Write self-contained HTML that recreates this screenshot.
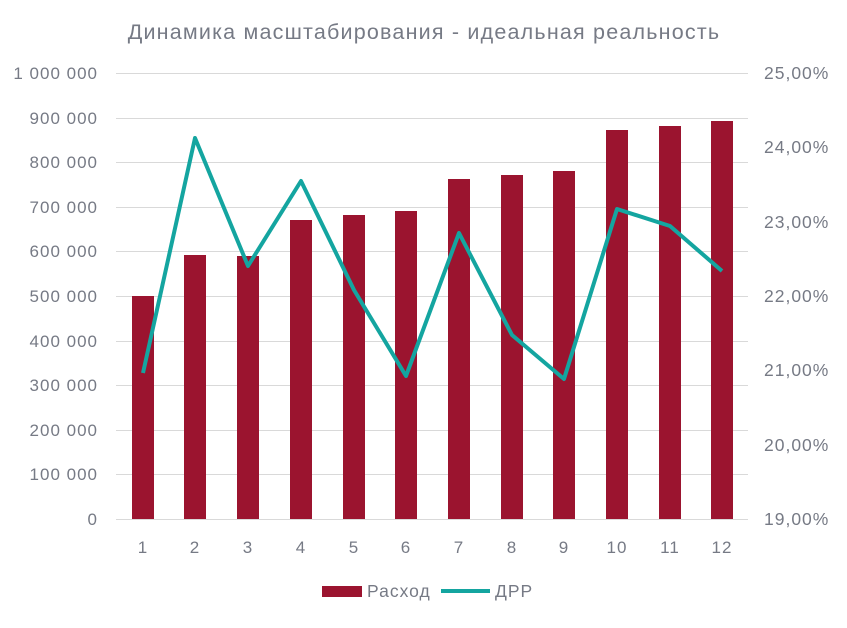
<!DOCTYPE html>
<html><head><meta charset="utf-8"><style>
body{margin:0;background:#fff}
text{font-family:"Liberation Sans",sans-serif;fill:#767a85;letter-spacing:1px}
</style></head><body>
<svg width="847" height="623" xmlns="http://www.w3.org/2000/svg">
<rect width="847" height="623" fill="#fff"/>
<text x="424" y="39" font-size="21.5" text-anchor="middle" style="letter-spacing:1.2px">Динамика масштабирования - идеальная реальность</text>
<g stroke="#d9d9d9" stroke-width="1">
<line x1="116" x2="748" y1="73.5" y2="73.5"/><line x1="116" x2="748" y1="118.5" y2="118.5"/>
<line x1="116" x2="748" y1="162.5" y2="162.5"/><line x1="116" x2="748" y1="207.5" y2="207.5"/>
<line x1="116" x2="748" y1="251.5" y2="251.5"/><line x1="116" x2="748" y1="296.5" y2="296.5"/>
<line x1="116" x2="748" y1="341.5" y2="341.5"/><line x1="116" x2="748" y1="385.5" y2="385.5"/>
<line x1="116" x2="748" y1="430.5" y2="430.5"/><line x1="116" x2="748" y1="474.5" y2="474.5"/>
<line x1="116" x2="748" y1="519.5" y2="519.5"/>
</g>
<g font-size="17" text-anchor="end">
<text x="98" y="79">1 000 000</text><text x="98" y="124">900 000</text><text x="98" y="168">800 000</text>
<text x="98" y="213">700 000</text><text x="98" y="257">600 000</text><text x="98" y="302">500 000</text>
<text x="98" y="347">400 000</text><text x="98" y="391">300 000</text><text x="98" y="436">200 000</text>
<text x="98" y="480">100 000</text><text x="98" y="525">0</text>
</g>
<g font-size="17.5" style="letter-spacing:1.5px">
<text x="764" y="79">25,00%</text><text x="764" y="153">24,00%</text><text x="764" y="228">23,00%</text>
<text x="764" y="302">22,00%</text><text x="764" y="376">21,00%</text><text x="764" y="451">20,00%</text>
<text x="764" y="525">19,00%</text>
</g>
<g fill="#9b142f">
<rect x="132" y="296" width="22" height="223"/>
<rect x="184" y="255" width="22" height="264"/>
<rect x="237" y="256" width="22" height="263"/>
<rect x="290" y="220" width="22" height="299"/>
<rect x="343" y="215" width="22" height="304"/>
<rect x="395" y="211" width="22" height="308"/>
<rect x="448" y="179" width="22" height="340"/>
<rect x="501" y="175" width="22" height="344"/>
<rect x="553" y="171" width="22" height="348"/>
<rect x="606" y="130" width="22" height="389"/>
<rect x="659" y="126" width="22" height="393"/>
<rect x="711" y="121" width="22" height="398"/>
</g>
<polyline fill="none" stroke="#14a5a0" stroke-width="4" stroke-linejoin="round" points="143,373 195,138 248,266 301,181 354,290 406,376 459,233 512,335 564,379 617,209 670,226 722,271"/>
<g font-size="17" text-anchor="middle">
<text x="143" y="553">1</text><text x="195" y="553">2</text><text x="248" y="553">3</text><text x="301" y="553">4</text>
<text x="354" y="553">5</text><text x="406" y="553">6</text><text x="459" y="553">7</text><text x="512" y="553">8</text>
<text x="564" y="553">9</text><text x="617" y="553">10</text><text x="670" y="553">11</text><text x="722" y="553">12</text>
</g>
<rect x="322" y="586" width="40" height="11" fill="#9b142f"/>
<text x="367" y="597" font-size="17.5">Расход</text>
<line x1="441" x2="490" y1="591" y2="591" stroke="#14a5a0" stroke-width="4"/>
<text x="495" y="597" font-size="17.5">ДРР</text>
</svg>
</body></html>
